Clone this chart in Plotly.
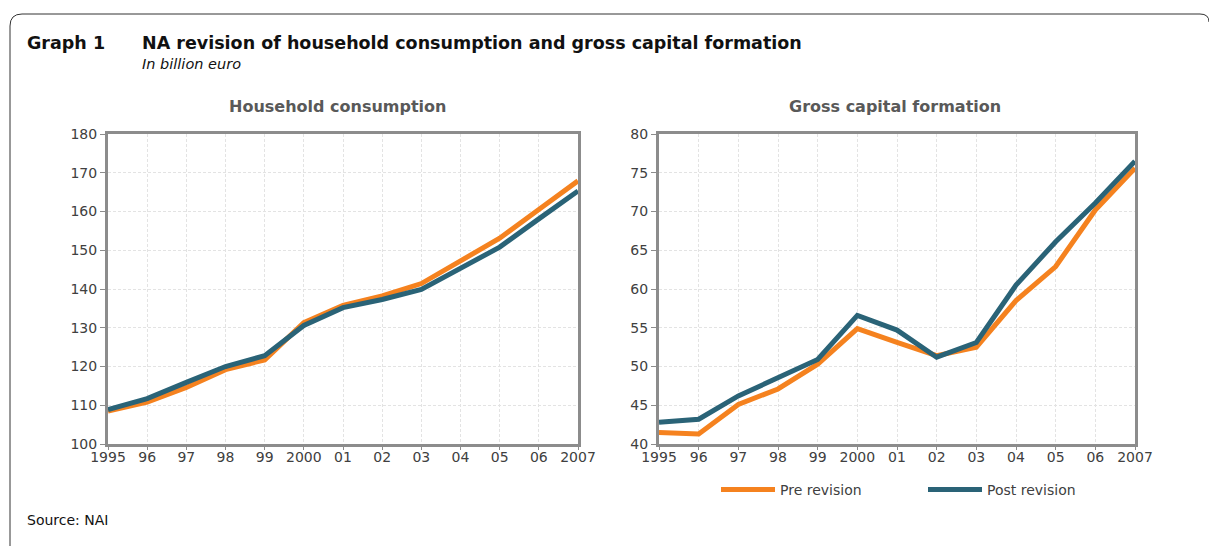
import plotly.graph_objects as go

years = list(range(1995, 2008))
tick_labels = ["1995", "96", "97", "98", "99", "2000", "01", "02", "03", "04", "05", "06", "2007"]

hc_pre = [108.5, 110.8, 114.6, 119.2, 121.7, 131.3, 135.8, 138.2, 141.4, 147.1, 153.1, 160.5, 167.9]
hc_post = [108.9, 111.7, 115.9, 120.0, 122.8, 130.6, 135.2, 137.3, 139.9, 145.5, 150.8, 158.1, 165.3]

gcf_pre = [41.5, 41.3, 45.1, 47.1, 50.3, 54.9, 53.1, 51.4, 52.5, 58.5, 62.9, 70.2, 75.6]
gcf_post = [42.8, 43.2, 46.2, 48.6, 50.9, 56.6, 54.7, 51.2, 53.1, 60.5, 66.1, 71.1, 76.5]

ORANGE = "#F5821F"
BLUE = "#2A6377"
AXIS = "#8C8C8C"
FONT = "DejaVu Sans"

W, H = 1209, 548
def px(x):
    return x / W
def py(y):
    return 1 - y / H

fig = go.Figure()
fig.add_trace(go.Scatter(x=years, y=hc_pre, mode="lines", name="Pre revision",
                         line=dict(color=ORANGE, width=5), xaxis="x", yaxis="y", showlegend=True))
fig.add_trace(go.Scatter(x=years, y=hc_post, mode="lines", name="Post revision",
                         line=dict(color=BLUE, width=5), xaxis="x", yaxis="y", showlegend=True))
fig.add_trace(go.Scatter(x=years, y=gcf_pre, mode="lines", name="Pre revision",
                         line=dict(color=ORANGE, width=5), xaxis="x2", yaxis="y2", showlegend=False))
fig.add_trace(go.Scatter(x=years, y=gcf_post, mode="lines", name="Post revision",
                         line=dict(color=BLUE, width=5), xaxis="x2", yaxis="y2", showlegend=False))

xcommon = dict(range=[1995, 2007], tickvals=years, ticktext=tick_labels,
               showgrid=True, gridcolor="#E3E3E3", griddash="3px,2px", gridwidth=1,
               showline=True, linecolor=AXIS, linewidth=3, mirror=True,
               ticks="outside", ticklen=3, tickcolor=AXIS, tickwidth=1,
               ticklabelstandoff=-5,
               tickfont=dict(family=FONT, size=14, color="#404040"),
               zeroline=False, fixedrange=True)
ycommon = dict(showgrid=True, gridcolor="#E3E3E3", griddash="3px,2px", gridwidth=1,
               showline=True, linecolor=AXIS, linewidth=3, mirror=True,
               ticks="outside", ticklen=5, tickcolor=AXIS, tickwidth=1,
               tickfont=dict(family=FONT, size=14, color="#404040"),
               zeroline=False, fixedrange=True)

fig.update_layout(
    width=W, height=H,
    margin=dict(l=0, r=0, t=0, b=0, autoexpand=False),
    paper_bgcolor="white", plot_bgcolor="white",
    font=dict(family=FONT, color="#404040"),
    xaxis=dict(domain=[px(108), px(578)], anchor="y", **xcommon),
    yaxis=dict(domain=[py(444), py(134)], anchor="x", range=[100, 180], dtick=10, **ycommon),
    xaxis2=dict(domain=[px(659), px(1135)], anchor="y2", **xcommon),
    yaxis2=dict(domain=[py(444), py(134)], anchor="x2", range=[40, 80], dtick=5, **ycommon),
    legend=dict(orientation="h", x=px(716), y=py(490), xanchor="left", yanchor="middle",
                entrywidth=138, entrywidthmode="pixels", itemwidth=54,
                font=dict(family=FONT, size=14, color="#404040"), bgcolor="rgba(0,0,0,0)"),
    showlegend=True,
)

annotations = [
    dict(text="<b>Graph 1</b>", x=px(25), y=py(43), xanchor="left", yanchor="middle",
         font=dict(family=FONT, size=17.5, color="#111111")),
    dict(text="<b>NA revision of household consumption and gross capital formation</b>", x=px(140), y=py(43),
         xanchor="left", yanchor="middle", font=dict(family=FONT, size=17.5, color="#111111")),
    dict(text="<i>In billion euro</i>", x=px(140), y=py(64), xanchor="left", yanchor="middle",
         font=dict(family=FONT, size=14.5, color="#111111")),
    dict(text="<b>Household consumption</b>", x=px(338), y=py(106), xanchor="center", yanchor="middle",
         font=dict(family=FONT, size=16, color="#595959")),
    dict(text="<b>Gross capital formation</b>", x=px(895), y=py(106), xanchor="center", yanchor="middle",
         font=dict(family=FONT, size=16, color="#595959")),
    dict(text="Source: NAI", x=px(25), y=py(520), xanchor="left", yanchor="middle",
         font=dict(family=FONT, size=14, color="#111111")),
]
for a in annotations:
    a.update(xref="paper", yref="paper", showarrow=False)
fig.update_layout(annotations=annotations)

# rounded frame (top-left corner)
path = (f"M {px(10)},{py(546)} L {px(10)},{py(26)} "
        f"Q {px(10)},{py(14)} {px(22)},{py(14)} L {px(1200)},{py(14)} "
        f"Q {px(1209)},{py(14)} {px(1209)},{py(22)}")
fig.add_shape(type="path", path=path, xref="paper", yref="paper",
              line=dict(color="#333333", width=1))

fig.write_html("out.html", config={"displayModeBar": False},
               post_script="document.body.style.margin='0';document.body.style.overflow='hidden';")
